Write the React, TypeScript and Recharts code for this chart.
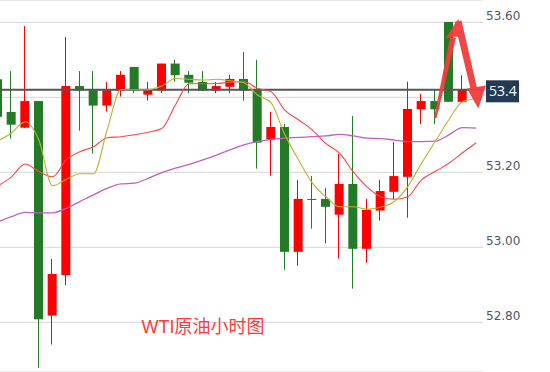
import React from "react";
import {Bar, CartesianGrid, ComposedChart, Line, ReferenceLine, XAxis, YAxis} from "recharts";

// hourly candles
const opens = [53.448, 53.361, 53.319, 53.390, 52.818, 52.926, 53.430, 53.419, 53.378, 53.418, 53.481, 53.407, 53.418, 53.490, 53.460, 53.441, 53.418, 53.428, 53.449, 53.421, 53.288, 53.321, 52.988, 53.129, 53.129, 53.087, 53.169, 52.996, 53.098, 53.148, 53.188, 53.368, 53.390, 53.601, 53.388];
const highs = [53.460, 53.470, 53.590, 53.390, 52.969, 53.561, 53.470, 53.470, 53.441, 53.470, 53.481, 53.441, 53.490, 53.500, 53.470, 53.470, 53.441, 53.460, 53.521, 53.500, 53.361, 53.329, 53.180, 53.190, 53.158, 53.249, 53.350, 53.129, 53.180, 53.281, 53.442, 53.409, 53.421, 53.601, 53.459];
const lows = [53.340, 53.290, 53.318, 52.679, 52.741, 52.899, 53.311, 53.250, 53.362, 53.402, 53.411, 53.391, 53.411, 53.442, 53.411, 53.418, 53.411, 53.411, 53.391, 53.210, 53.191, 52.940, 52.951, 53.050, 53.010, 52.970, 52.890, 52.959, 53.071, 53.129, 53.079, 53.329, 53.329, 53.388, 53.388];
const closes = [53.348, 53.327, 53.390, 52.808, 52.929, 53.430, 53.418, 53.378, 53.419, 53.460, 53.418, 53.421, 53.490, 53.459, 53.439, 53.418, 53.430, 53.449, 53.418, 53.279, 53.321, 52.988, 53.129, 53.127, 53.108, 53.169, 52.996, 53.100, 53.150, 53.190, 53.369, 53.390, 53.368, 53.388, 53.421];

// moving averages (one slot longer than the candles)
const maFast = [53.284, 53.305, 53.335, 53.286, 53.164, 53.181, 53.196, 53.196, 53.313, 53.420, 53.420, 53.420, 53.430, 53.450, 53.448, 53.446, 53.448, 53.444, 53.439, 53.406, 53.385, 53.300, 53.233, 53.172, 53.135, 53.108, 53.108, 53.102, 53.107, 53.122, 53.162, 53.224, 53.282, 53.340, 53.388, 53.396];
const maMid = [53.164, 53.188, 53.222, 53.202, 53.188, 53.233, 53.255, 53.268, 53.292, 53.295, 53.300, 53.307, 53.317, 53.380, 53.436, 53.436, 53.437, 53.440, 53.442, 53.424, 53.415, 53.366, 53.340, 53.313, 53.277, 53.251, 53.202, 53.162, 53.135, 53.128, 53.135, 53.180, 53.202, 53.224, 53.252, 53.279];
const maSlow = [53.068, 53.082, 53.093, 53.092, 53.092, 53.104, 53.122, 53.140, 53.157, 53.169, 53.171, 53.184, 53.199, 53.211, 53.221, 53.233, 53.246, 53.260, 53.273, 53.282, 53.288, 53.291, 53.293, 53.295, 53.297, 53.301, 53.297, 53.291, 53.290, 53.286, 53.282, 53.282, 53.283, 53.300, 53.319, 53.318];

const yTicks = [52.8, 53.0, 53.2, 53.4, 53.6];
const coveredTick = 53.4; // hidden under the last-price tag
const lastPrice = 53.42;
const lastPriceLabel = "53.4";
const title = "WTI原油小时图";

const data = maFast.map((fast, i) => ({
  i,
  o: opens[i] ?? null,
  h: highs[i] ?? null,
  l: lows[i] ?? null,
  c: closes[i] ?? null,
  range: i < opens.length ? [lows[i], highs[i]] : null,
  fast,
  mid: maMid[i],
  slow: maSlow[i],
}));

function Candle(props: any) {
  const {x, y, width, height, payload} = props;
  if (payload.o == null || !height) return null;
  const {o, h, l, c} = payload;
  const k = height / (h - l);
  const py = (v: number) => y + (h - v) * k;
  const color = c >= o ? "#ff0000" : "#237a27";
  const top = py(Math.max(o, c));
  const bodyH = Math.max(1, py(Math.min(o, c)) - top);
  const cx = Math.round(x + width / 2) - 0.5;
  return (
    <g>
      <line x1={cx} x2={cx} y1={y} y2={y + height} stroke={color} strokeWidth={1}/>
      <rect x={x} y={top} width={width} height={bodyH} fill={color}/>
    </g>
  );
}

function PriceTick({x, y, payload}: any) {
  if (Math.abs(payload.value - coveredTick) < 1e-6) return <g/>;
  return (
    <text x={x + 3} y={y - 2} fill="#4d5866" fontSize={12} fontFamily="DejaVu Sans">
      {payload.value.toFixed(2)}
    </text>
  );
}

function PriceTag({viewBox}: any) {
  if (!viewBox) return null;
  const bx = viewBox.x + viewBox.width + 3;
  return (
    <g>
      <rect x={bx} y={viewBox.y - 9.5} width={33} height={22} fill="#233a56"/>
      <text x={bx + 3} y={viewBox.y + 6.5} fill="#ffffff" fontSize={14} fontFamily="Open Sans">
        {lastPriceLabel}
      </text>
    </g>
  );
}

export default function App() {
  return (
    <div style={{position: "fixed", left: 0, top: 0, width: 550, height: 372, overflow: "hidden", background: "#fff"}}>
      <div style={{position: "absolute", left: -9, top: 0}}>
        <ComposedChart width={558} height={372} data={data} margin={{top: 0, right: 0, bottom: 0, left: 0}}>
          <CartesianGrid vertical={false} stroke="#d6d6d6"/>
          <XAxis dataKey="i" hide/>
          <YAxis
            orientation="right"
            width={66}
            domain={[52.6675, 53.6595]}
            allowDataOverflow
            ticks={yTicks}
            interval={0}
            axisLine={false}
            tickLine={false}
            tickSize={0}
            tickMargin={0}
            tick={<PriceTick/>}
          />
          <ReferenceLine y={lastPrice} stroke="#555555" strokeWidth={2} label={<PriceTag/>}/>
          <Bar dataKey="range" barSize={9} shape={<Candle/>} isAnimationActive={false}/>
          <Line type="monotone" dataKey="slow" stroke="#c35ec6" strokeWidth={1.3} dot={false} activeDot={false} isAnimationActive={false}/>
          <Line type="monotone" dataKey="mid" stroke="#ff4545" strokeWidth={1.1} dot={false} activeDot={false} isAnimationActive={false}/>
          <Line type="monotone" dataKey="fast" stroke="#bcb22c" strokeWidth={1.1} dot={false} activeDot={false} isAnimationActive={false}/>
        </ComposedChart>
      </div>
      <svg width={550} height={372} style={{position: "absolute", left: 0, top: 0, pointerEvents: "none"}}>
        <g fill="#f23c3c" opacity={0.95}>
          <polygon points="434,118 436.5,118.3 456,38 450,37"/>
          <polygon points="445.5,38 462,36 458.3,19"/>
          <polygon points="454.5,22 461.5,20.5 477,88 470.5,89"/>
          <polygon points="467,88.5 486,85.5 478.3,108.5"/>
        </g>
        <text x={141.5} y={333} fill="#ff3a3a" fontSize={18} fontFamily="Liberation Sans, Noto Sans CJK SC">
          {title}
        </text>
      </svg>
    </div>
  );
}
